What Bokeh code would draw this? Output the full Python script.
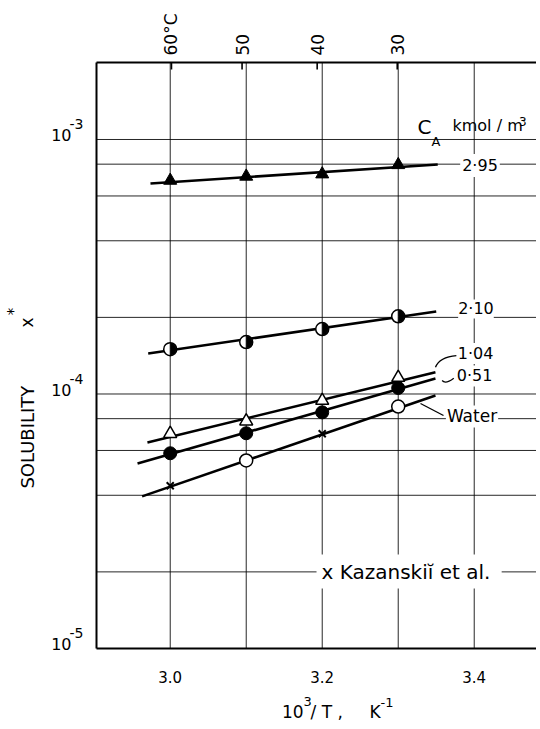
import math
from bokeh.plotting import figure
from bokeh.models import Range1d, Label
from bokeh.embed import file_html
from bokeh.resources import INLINE

# ---------------- data ----------------
inv_T = [3.0, 3.1, 3.2, 3.3]                      # 10^3/T, K^-1
ca_295 = [6.90e-4, 7.16e-4, 7.31e-4, 7.95e-4]     # C_A = 2.95 kmol/m3
ca_210 = [1.50e-4, 1.60e-4, 1.80e-4, 2.02e-4]     # C_A = 2.10
ca_104 = [6.98e-5, 7.82e-5, 9.42e-5, 1.16e-4]     # C_A = 1.04
ca_051 = [5.85e-5, 7.01e-5, 8.47e-5, 1.056e-4]    # C_A = 0.51
water_x = [3.1, 3.3]
water_y = [5.48e-5, 8.93e-5]                      # water (open circles)
kaz_x = [3.0, 3.2]
kaz_y = [4.36e-5, 6.98e-5]                        # Kazanskii et al. (crosses)

# fitted lines: (x0, x1, y0, y1)
line_295 = (2.974, 3.352, 6.72e-4, 7.98e-4)
line_210 = (2.971, 3.350, 1.442e-4, 2.11e-4)
line_104 = (2.970, 3.349, 6.45e-5, 1.218e-4)
line_051 = (2.957, 3.349, 5.33e-5, 1.151e-4)
line_water = (2.963, 3.349, 3.96e-5, 9.86e-5)

temps_C = [60, 50, 40, 30]
temp_labels = ["60°C", "50", "40", "30"]
x_ticks = [3.0, 3.2, 3.4]
x_tick_labels = ["3.0", "3.2", "3.4"]
x_grid = [3.0, 3.1, 3.2, 3.3, 3.4]
y_grid = [2e-5, 4e-5, 6e-5, 8e-5, 1e-4, 2e-4, 4e-4, 6e-4, 8e-4, 1e-3]
y_decades = [1e-3, 1e-4, 1e-5]
y_exp_labels = ["-3", "-4", "-5"]

# plotting box of the chart (data limits)
X_MIN, Y_MIN, Y_MAX = 2.903, 1e-5, 2.007e-3

FONT = "DejaVu Sans"
DEC = 254.5  # px per decade (for small label offsets)
W, H = 536, 724


def up(yv, px):
    """shift a log-axis value up by px screen pixels"""
    return yv * 10 ** (px / DEC)


X_LO = X_MIN - 96 / 760.0
X_HI = X_MIN + (W - 96) / 760.0
Y_TOP = up(Y_MAX, 62)
Y_BOT = up(Y_MIN, -(H - 648))

p = figure(width=W, height=H,
           x_range=Range1d(X_LO, X_HI), y_range=Range1d(Y_BOT, Y_TOP),
           y_axis_type="log", x_axis_location=None, y_axis_location=None,
           output_backend="svg", toolbar_location=None,
           min_border=0, min_border_left=0, min_border_right=0,
           min_border_top=0, min_border_bottom=0, outline_line_color=None,
           background_fill_color="white", border_fill_color="white")
p.grid.visible = False

# grid lines
p.segment(x0=[X_MIN] * len(y_grid), y0=y_grid, x1=[X_HI] * len(y_grid), y1=y_grid,
          line_color="black", line_width=1, line_alpha=0.85)
p.segment(x0=x_grid, y0=[Y_MIN] * len(x_grid), x1=x_grid, y1=[Y_MAX] * len(x_grid),
          line_color="black", line_width=1, line_alpha=0.85)

# frame (left, top, bottom)
p.segment(x0=[X_MIN, X_MIN, X_MIN], y0=[Y_MIN, Y_MAX, Y_MIN],
          x1=[X_MIN, X_HI, X_HI], y1=[Y_MAX, Y_MAX, Y_MIN],
          line_color="black", line_width=2)

# top temperature ticks
top_x = [1000.0 / (t + 273.15) for t in temps_C]
p.segment(x0=top_x, y0=[Y_MAX] * 4, x1=top_x, y1=[up(Y_MAX, -7)] * 4,
          line_color="black", line_width=1.6)

# lines
LW = 2.6
for (x0, x1, y0, y1) in (line_295, line_210, line_104, line_051, line_water):
    p.line([x0, x1], [y0, y1], line_color="black", line_width=LW)

# leaders to labels
p.line([3.3293, 3.3596], [9.18e-5, 8.23e-5], line_color="black", line_width=1.3)
p.quadratic(x0=[3.349], y0=[1.274e-4], x1=[3.3767], y1=[1.416e-4],
            cx=[3.3545], cy=[1.40e-4], line_color="black", line_width=1.3)
p.quadratic(x0=[3.3578], y0=[1.130e-4], x1=[3.3731], y1=[1.154e-4],
            cx=[3.3622], cy=[1.090e-4], line_color="black", line_width=1.3)

# markers
MS = 13
p.scatter(inv_T, ca_295, marker="triangle", size=MS, color="black")
p.scatter(inv_T, ca_210, marker="circle", size=MS, fill_color="white",
          line_color="black", line_width=1.5)
p.wedge(inv_T, ca_210, radius=6, radius_units="screen",
        start_angle=-math.pi / 2, end_angle=math.pi / 2, color="black")
p.scatter(inv_T, ca_104, marker="triangle", size=MS, fill_color="white",
          line_color="black", line_width=1.5)
p.scatter(inv_T, ca_051, marker="circle", size=MS, color="black")
p.scatter(water_x, water_y, marker="circle", size=MS, fill_color="white",
          line_color="black", line_width=1.5)
p.scatter(kaz_x, kaz_y, marker="x", size=10, line_color="black", line_width=2)


def lab(x, y, text, size, align="center", baseline="middle", angle=0.0,
        bg=None, pad=0):
    kw = dict(x=x, y=y, text=text, text_font=FONT, text_font_size=f"{size}px",
              text_align=align, text_baseline=baseline, angle=angle,
              text_color="black")
    if bg:
        kw["background_fill_color"] = bg
        kw["padding"] = pad
    p.add_layout(Label(**kw))


# series labels
lab(3.3254, 1.115e-3, "C", 20, align="left")
lab(3.3437, 9.78e-4, "A", 13, align="left")
lab(3.3714, 1.135e-3, "kmol / m", 16, align="left")
lab(3.4590, 1.18e-3, "3", 12, align="left")
lab(3.4076, 7.90e-4, "2·95", 16, bg="white", pad=2)
lab(3.4023, 2.16e-4, "2·10", 16, bg="white", pad=0)
lab(3.4017, 1.443e-4, "1·04", 16, bg="white", pad=1)
lab(3.4004, 1.177e-4, "0·51", 16, bg="white", pad=1)
lab(3.3971, 8.16e-5, "Water", 17, bg="white", pad=1)
lab(3.1925, 2.007e-5, "x  Kazanskiĭ et al.", 20, align="left", bg="white", pad=5)

# top temperature labels (rotated)
for xv, t in zip(top_x, temp_labels):
    lab(xv, up(Y_MAX, 7), t, 17, align="left", angle=math.pi / 2)

# bottom tick labels
for xv, t in zip(x_ticks, x_tick_labels):
    lab(xv, up(Y_MIN, -29), t, 15)

# y decade labels
for yv, e in zip(y_decades, y_exp_labels):
    lab(2.8701, up(yv, 4), "10", 16, align="right")
    lab(2.8675, up(yv, 15), e, 14, align="left")

# x axis title
lab(3.1754, up(Y_MIN, -63), "10", 17, align="right")
lab(3.1754, up(Y_MIN, -53), "3", 13, align="left")
lab(3.1846, up(Y_MIN, -63), "/ T ,", 17, align="left")
lab(3.2623, up(Y_MIN, -63), "K", 17, align="left")
lab(3.2767, up(Y_MIN, -54), "-1", 13, align="left")

# y axis title (rotated)
lab(2.8122, 4.25e-5, "SOLUBILITY", 18, align="left", angle=math.pi / 2)
lab(2.8122, 1.91e-4, "x", 17, angle=math.pi / 2)
lab(2.795, 2.109e-4, "*", 15, angle=math.pi / 2)

open("out.html", "w").write(file_html(p, INLINE))
